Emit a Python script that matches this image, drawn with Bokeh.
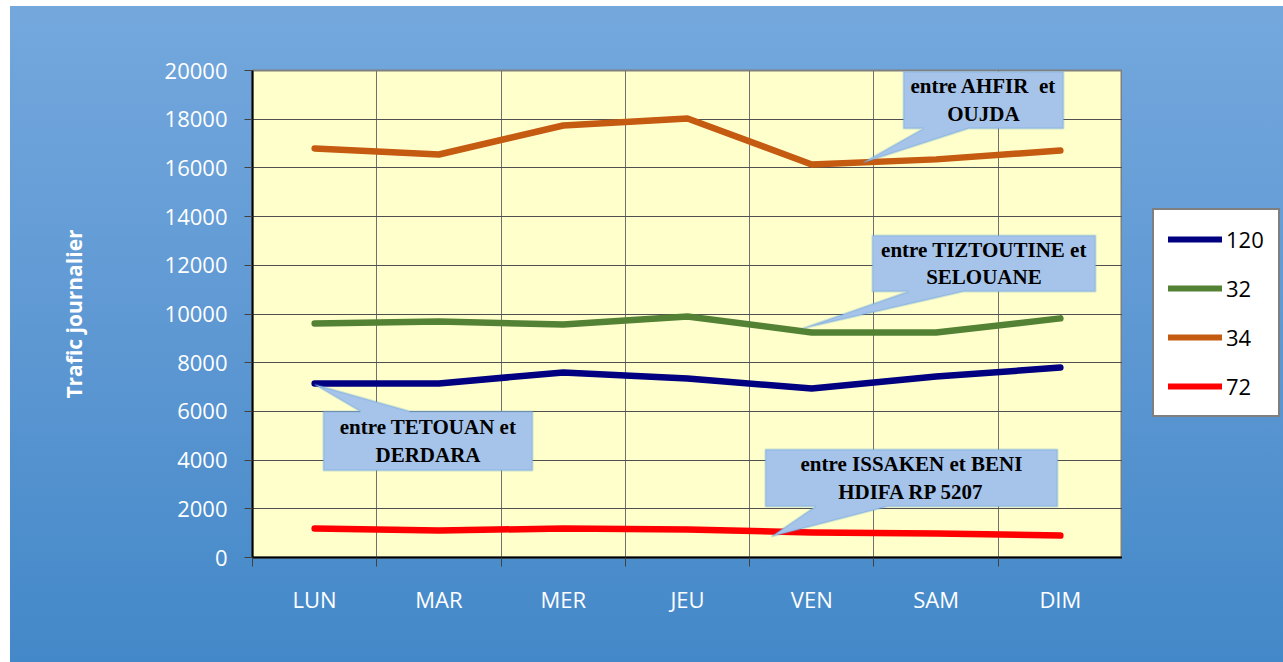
from bokeh.plotting import figure
from bokeh.layouts import row
from bokeh.models import FixedTicker, Legend, LegendItem, PolyAnnotation, Label
from bokeh.embed import file_html
from bokeh.resources import INLINE

days = ["LUN", "MAR", "MER", "JEU", "VEN", "SAM", "DIM"]
s120 = [7150, 7150, 7600, 7350, 6940, 7430, 7800]
s32 = [9610, 9690, 9570, 9900, 9240, 9240, 9820]
s34 = [16800, 16550, 17740, 18030, 16140, 16350, 16710]
s72 = [1190, 1110, 1190, 1150, 1030, 990, 900]
series_names = ["120", "32", "34", "72"]
y_ticks = list(range(0, 20001, 2000))

x = list(range(len(days)))
series = [s120, s32, s34, s72]

p = figure(width=1122, height=662, output_backend="svg", toolbar_location=None,
           x_range=(-0.5, len(days) - 0.5), y_range=(0, 20000),
           min_border_left=252, min_border_right=0, min_border_top=70, min_border_bottom=105)
p.border_fill_color = None
p.background_fill_color = "#FFFFCC"
p.outline_line_color = "#808080"
p.outline_line_width = 2

# x axis: labels at centers, ticks/grid at boundaries
p.xaxis.ticker = FixedTicker(ticks=x, minor_ticks=[i - 0.5 for i in range(len(days) + 1)])
p.xaxis.major_label_overrides = {i: d for i, d in enumerate(days)}
p.xaxis.major_tick_in = 0
p.xaxis.major_tick_out = 0
p.xaxis.minor_tick_in = 0
p.xaxis.minor_tick_out = 9
p.xaxis.minor_tick_line_color = "#404040"
p.xaxis.minor_tick_line_width = 1
p.xaxis.major_label_standoff = 17
p.xaxis.axis_line_color = "black"
p.xaxis.axis_line_width = 2
p.xaxis.major_label_text_color = "white"
p.xaxis.major_label_text_font = "Open Sans"
p.xaxis.major_label_text_font_size = "22px"
p.xgrid.grid_line_color = None
p.xgrid.minor_grid_line_color = "#707070"
p.xgrid.minor_grid_line_width = 1

p.yaxis.ticker = FixedTicker(ticks=y_ticks)
p.yaxis.major_tick_in = 0
p.yaxis.major_tick_out = 8
p.yaxis.major_tick_line_color = "#404040"
p.yaxis.minor_tick_line_color = None
p.yaxis.axis_line_color = "black"
p.yaxis.axis_line_width = 2
p.yaxis.major_label_standoff = 17
p.yaxis.major_label_text_color = "white"
p.yaxis.major_label_text_font = "Open Sans"
p.yaxis.major_label_text_font_size = "22px"
p.yaxis.axis_label = "Trafic journalier"
p.yaxis.axis_label_text_color = "white"
p.yaxis.axis_label_text_font = "Open Sans"
p.yaxis.axis_label_text_font_style = "bold"
p.yaxis.axis_label_text_font_size = "21px"
p.yaxis.axis_label_standoff = 74
p.ygrid.grid_line_color = "#505050"
p.ygrid.grid_line_width = 1

colors = ["#000080", "#548235", "#C55A11", "#FF0000"]
for vals, c in zip(series, colors):
    p.line(x, vals, line_width=6.5, color=c, line_cap="round", line_join="round")

# callouts (data coordinates)
def callout(box, base, tip, pointer_bottom=True):
    x0, x1, y0, y1 = box  # left, right, bottom, top
    b0, b1 = base
    tx, ty = tip
    if pointer_bottom:
        xs = [x0, x1, x1, b1, tx, b0, x0]
        ys = [y1, y1, y0, y0, ty, y0, y0]
    else:
        xs = [x0, b0, tx, b1, x1, x1, x0]
        ys = [y1, y1, ty, y1, y1, y0, y0]
    p.add_layout(PolyAnnotation(xs=xs, ys=ys, fill_color="#A6C4EA", fill_alpha=1,
                                line_color="#5B9BD5", line_width=2, level="overlay"))

def ctext(cx, cy, t):
    p.add_layout(Label(x=cx, y=cy, text=t, text_align="center", text_baseline="middle",
                       text_font="Liberation Serif", text_font_style="bold",
                       text_font_size="21px", text_color="black", text_line_height=1.15,
                       level="overlay"))

callout((4.738, 6.025, 17618, 19960), (4.899, 5.261), (4.416, 16223))
ctext(5.381, 18790, "entre AHFIR\u00a0\u00a0et\nOUJDA")
callout((4.488, 6.283, 10925, 13225), (4.778, 5.220), (3.925, 9405))
ctext(5.385, 12075, "entre TIZTOUTINE et\nSELOUANE")
callout((0.071, 1.753, 3573, 5996), (0.369, 0.771), (0.0, 7105), pointer_bottom=False)
ctext(0.912, 4785, "entre TETOUAN et\nDERDARA")
callout((3.627, 5.977, 2095, 4436), (4.030, 4.609), (3.676, 862))
ctext(4.802, 3265, "entre ISSAKEN et BENI\nHDIFA RP 5207")

# legend in its own transparent figure, to the right of the plot area
# (series drawn there outside its visible range; only the legend shows)
lg = figure(width=161, height=662, output_backend="svg", toolbar_location=None,
            x_range=(100, 101), y_range=(0, 20000), min_border=0)
lg.axis.visible = False
lg.grid.visible = False
lg.outline_line_color = None
lg.background_fill_color = None
lg.border_fill_color = None
legend_renderers = [lg.line(x, vals, line_width=6, color=c, line_cap="round")
                    for vals, c in zip(series, colors)]

legend = Legend(items=[LegendItem(label=n, renderers=[r]) for n, r in zip(series_names, legend_renderers)],
                location=(30, 140))
legend.border_line_color = "black"
legend.border_line_width = 2
legend.background_fill_color = "white"
legend.background_fill_alpha = 1
legend.label_text_font = "Open Sans"
legend.label_text_font_size = "22px"
legend.label_text_color = "black"
legend.glyph_width = 54
legend.glyph_height = 30
legend.label_height = 30
legend.label_width = 32
legend.spacing = 19
legend.padding = 14
legend.margin = 0
legend.label_standoff = 4
lg.add_layout(legend)

layout = row(p, lg, spacing=0)
layout.styles = {"background": "linear-gradient(180deg, #74A8DD 0%, #5E98D3 50%, #4388C8 100%) 10px 6px / calc(100% - 10px) calc(100% - 6px) no-repeat, white"}

open("out.html", "w").write(file_html(layout, INLINE))
